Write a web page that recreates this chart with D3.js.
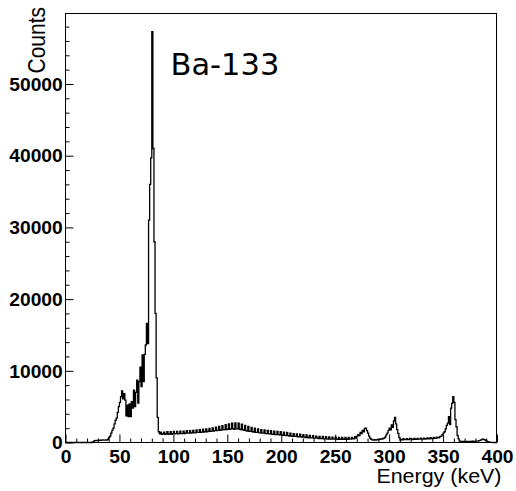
<!DOCTYPE html>
<html><head><meta charset="utf-8">
<script src="https://cdn.jsdelivr.net/npm/d3@7"></script>
<style>body{margin:0;background:#fff}</style>
</head><body>
<svg id="c" width="516" height="491"></svg>
<script>
// ---- data: counts per 1 keV bin, bins [0,1) ... [399,400) ----
const binStart = 0;
const binWidth = 1;
const counts = [
  0,0,0,0,0,0,0,0,0,0,0,0,0,0,0,0,0,0,0,0,
  0,0,0,0,0,100,200,250,300,280,300,320,290,330,350,320,340,360,350,450,
  700,900,1300,1700,2000,2600,3100,3400,4200,5000,5600,6400,7200,6100,6800,5900,3700,5200,3600,5400,
  3600,5700,4800,7300,5000,7000,8700,5500,8500,10500,7800,12200,8500,12300,13600,16600,13800,31000,36000,39700,
  57300,41000,28000,18000,9000,3500,1500,1200,1450,1150,1200,1450,1150,1200,1500,1150,1200,1500,1150,1250,
  1550,1200,1250,1550,1200,1250,1600,1250,1250,1600,1250,1300,1650,1300,1300,1650,1300,1350,1700,1350,
  1350,1750,1400,1400,1800,1400,1450,1850,1450,1500,1900,1500,1550,1950,1550,1600,2050,1600,1650,2150,
  1650,1700,2250,1700,1750,2350,1750,1800,2500,1800,1850,2600,1850,1900,2700,1900,1850,2750,1900,1900,
  2700,1850,1800,2550,1750,1700,2400,1650,1600,2250,1550,1550,2100,1500,1450,2000,1400,1400,1900,1350,
  1350,1800,1300,1300,1750,1250,1250,1700,1200,1200,1650,1150,1150,1600,1100,1100,1550,1100,1050,1500,
  1050,1000,1450,1000,950,1400,950,900,1300,900,850,1250,850,850,1200,800,800,1150,800,750,
  1100,750,700,1050,700,650,1000,650,650,950,600,600,900,600,550,850,550,550,850,500,
  500,800,500,480,780,480,480,750,470,460,730,460,450,720,450,450,700,450,450,700,
  450,450,700,460,480,720,500,520,800,600,900,1100,950,1400,1250,1700,1500,1950,2000,1650,
  1300,900,600,450,380,350,400,350,380,420,400,450,500,480,560,600,750,1050,1300,1700,
  2000,1750,2450,2100,3000,3500,2600,1800,1280,700,350,420,380,520,400,400,540,400,420,560,
  550,420,440,560,440,450,580,460,470,600,470,480,620,490,500,640,510,520,660,540,
  560,700,580,600,760,640,700,850,900,1100,1300,1500,1900,2400,2700,3600,2500,4800,5470,6400,
  5600,3200,2200,1000,500,200,150,150,120,150,160,140,150,170,150,150,160,180,150,170,
  180,200,200,250,300,380,450,450,400,300,200,120,80,50,30,20,0,0,0,0
];
const xMajorTicks = [0,50,100,150,200,250,300,350,400];
const xMinorTicks = [10,20,30,40,60,70,80,90,110,120,130,140,160,170,180,190,210,220,230,240,260,270,280,290,310,320,330,340,360,370,380,390];
const yMajorTicks = [0,10000,20000,30000,40000,50000];
const yMinorTicks = [2000,4000,6000,8000,12000,14000,16000,18000,22000,24000,26000,28000,32000,34000,36000,38000,42000,44000,46000,48000,52000,54000,56000,58000];
const xTitle = "Energy (keV)";
const yTitle = "Counts";
const label = "Ba-133";

// ---- layout ----
const svg = d3.select("#c");
const L = 65.5, R = 496.5, T = 13.5, B = 442.5;
const x = d3.scaleLinear().domain([0, 400]).range([L, R + 0.5]);
const y = d3.scaleLinear().domain([0, 59900]).range([B, 13]);
const SX = 1.1; // horizontal stretch of text seen in the reference

// histogram step line
const pts = counts.map((c, i) => [binStart + i * binWidth, c]);
pts.push([binStart + counts.length * binWidth, counts[counts.length - 1]]);
const line = d3.line().x(d => x(d[0])).y(d => y(d[1])).curve(d3.curveStepAfter);
svg.append("path").datum(pts).attr("d", line)
  .attr("fill", "none").attr("stroke", "#000").attr("stroke-width", 1.3)
  .attr("stroke-linejoin", "miter");

// axes
const tickFont = "'Liberation Sans', Arial, Helvetica, sans-serif";
const gx = svg.append("g").attr("transform", `translate(0,${B})`)
  .call(d3.axisBottom(x).tickValues(xMajorTicks).tickSize(-8).tickPadding(8).tickFormat(d3.format("d")));
const gxm = svg.append("g").attr("transform", `translate(0,${B})`)
  .call(d3.axisBottom(x).tickValues(xMinorTicks).tickSize(-4).tickFormat(""));
const gy = svg.append("g").attr("transform", `translate(${L},0)`)
  .call(d3.axisLeft(y).tickValues(yMajorTicks).tickSize(-8).tickPadding(2.5).tickFormat(d3.format("d")));
const gym = svg.append("g").attr("transform", `translate(${L},0)`)
  .call(d3.axisLeft(y).tickValues(yMinorTicks).tickSize(-4).tickFormat(""));
[gx, gxm, gy, gym].forEach(g => {
  g.select(".domain").remove();
  g.selectAll(".tick line").attr("stroke", "#000").attr("stroke-width", 1);
  g.selectAll("text").attr("font-family", tickFont).attr("font-size", 17.5)
    .attr("font-weight", "bold").attr("fill", "#000")
    .attr("transform", `scale(${SX},1)`);
});
gy.selectAll("text").attr("dy", "0.36em");

// frame
svg.append("rect").attr("x", L).attr("y", T).attr("width", R - L).attr("height", B - T)
  .attr("fill", "none").attr("stroke", "#000").attr("stroke-width", 1);

// titles
svg.append("g").attr("transform", `translate(501.5,483.3) scale(${SX},1)`)
  .append("text").attr("text-anchor", "end").attr("font-family", tickFont)
  .attr("font-size", 19.5).attr("fill", "#000").text(xTitle);
svg.append("g").attr("transform", `translate(45,7) scale(${SX},1) rotate(-90)`)
  .append("text").attr("text-anchor", "end").attr("font-family", tickFont)
  .attr("font-size", 21).attr("fill", "#000").text(yTitle);
svg.append("text").attr("x", 170.5).attr("y", 75)
  .attr("font-family", "'DejaVu Sans', sans-serif").attr("font-size", 30.5)
  .attr("fill", "#000").text(label);
</script>
</body></html>
